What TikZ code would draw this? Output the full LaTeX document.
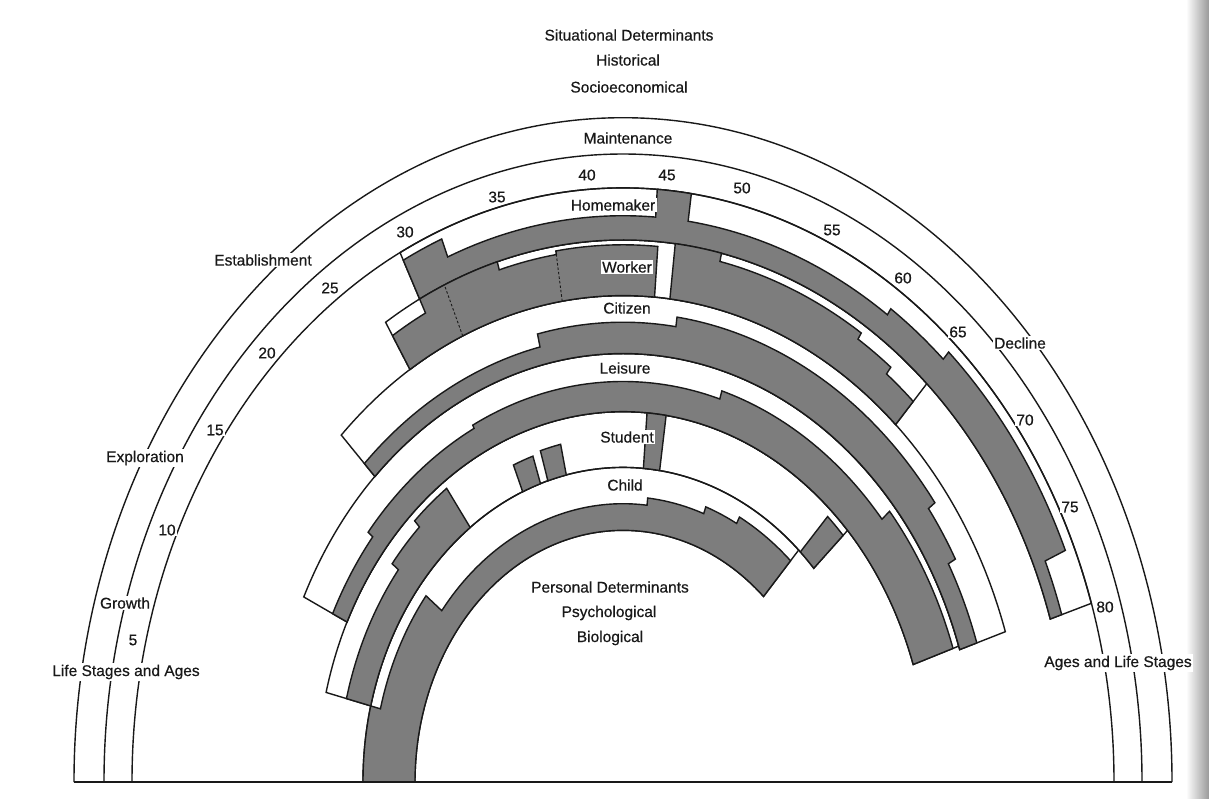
\documentclass[tikz,border=0pt]{standalone}
\usepackage{fontspec}
\setmainfont{Liberation Sans}
\newfontfamily\lblfont[FakeBold=0.5]{Liberation Sans}
\definecolor{bandgray}{RGB}{125,125,125}
\definecolor{ink}{RGB}{25,25,25}
\tikzset{
  gfill/.style={fill=bandgray, draw=ink, line width=1.4pt, line join=miter},
  outline/.style={draw=ink, line width=1.4pt},
  lbl/.style={font=\lblfont\fontsize{15.5}{17}\selectfont, text=ink, inner sep=1.5pt},
  wlbl/.style={lbl, fill=white},
  dashline/.style={draw=ink, line width=0.9pt, dash pattern=on 2.5pt off 2pt},
}
% gray stepped region: #1 inner radius, #2 start angle, #3 end angle, #4 segments a/b/r
\newcommand\gband[4]{%
  \filldraw[gfill] (#2:#1) \foreach \sa/\sb/\sr in {#4} { -- (\sa:\sr) arc[start angle=\sa, end angle=\sb, radius=\sr] } -- (#3:#1) arc[start angle=#3, end angle=#2, radius=#1] -- cycle;}
% band outline: #1 inner r, #2 outer r, #3 start angle, #4 end angle
\newcommand\ringband[4]{%
  \draw[outline] (#3:#1) -- (#3:#2) arc[start angle=#3, end angle=#4, radius=#2] -- (#4:#1) arc[start angle=#4, end angle=#3, radius=#1] -- cycle;}
\begin{document}
\begin{tikzpicture}[x=1pt,y=-1pt]
\useasboundingbox (0,0) rectangle (1209,798);
\fill[white] (0,0) rectangle (1209,798);
\shade[left color=white, right color=black!40] (1186,0) rectangle (1209,798);

\begin{scope}[shift={(623,782)}, yscale=-1.21]
  % outer stage and age arcs
  \draw[outline] (180:549) arc[start angle=180, end angle=0, radius=549];
  \draw[outline] (180:519) arc[start angle=180, end angle=0, radius=519];
  \draw[outline] (180:491) arc[start angle=180, end angle=0, radius=491];
  % role bands (outlines)
  \ringband{448}{491}{117}{17.5}
  \ringband{402}{448}{122}{47.3}
  \ringband{354}{402}{134.5}{18}
  \ringband{306}{354}{154.4}{18.5}
  \ringband{260}{306}{166}{42.8}
  \ringband{208}{260}{180}{47.5}
  % Homemaker
  \gband{448}{117}{17.5}{117/112/484, 112/86/468, 86/82/491, 82/55.6/468, 55.6/47.5/474, 47.5/23.4/482, 23.4/17.5/460}
  % Worker
  \gband{402}{122}{85.5}{122/117/435, 117/106.3/448, 106.3/98.7/441, 98.7/85.5/444}
  \gband{402}{83.3}{47.3}{83.3/77.3/448, 77.3/57.3/441, 57.3/52/435, 52/47.3/428}
  \draw[dashline] (113.5:402) -- (113.5:448);
  \draw[dashline] (98.7:402) -- (98.7:444);
  % Citizen
  \gband{354}{134.5}{18}{134.5/103/369, 103/82/380, 82/36.5/388, 36.5/29/380, 29/18/372}
  % Leisure
  \gband{306}{154.4}{18.5}{154.4/141/322, 141/117/328, 117/73/331, 73/40/338, 40/18.5/348}
  % Student
  \gband{260}{166}{126}{166/142/285, 142/134/293, 134/126/300}
  \gband{260}{112.7}{108.5}{112.7/108.5/284}
  \gband{260}{106.8}{102.6}{106.8/102.6/286}
  \gband{260}{85.5}{81.9}{85.5/81.9/306}
  \gband{260}{47}{42.8}{47/42.8/300}
  % Child
  \gband{208}{180}{47.5}{180/166/260, 166/142/250, 142/84/230, 84/70/236, 70/62/242, 62/47.5/248}
\end{scope}
\draw[outline] (74,782) -- (1172,782);

% role labels
\node[wlbl] (hm) at (613,205) {Homemaker};
\node[wlbl] (wk) at (627,267) {Worker};
\node[wlbl] (ct) at (627,308) {Citizen};
\node[wlbl] (ls) at (625,368) {Leisure};
\node[wlbl] (st) at (627,437) {Student};
\node[wlbl] (ch) at (625,485) {Child};

% stage labels
\node[wlbl] (mt) at (628,138) {Maintenance};
\node[wlbl] (es) at (263,260) {Establishment};
\node[wlbl] (ex) at (145,458) {Exploration};
\node[wlbl] (gr) at (125,603) {Growth};
\node[wlbl] (dc) at (1020,343) {Decline};
\node[wlbl] (lsa) at (126,672) {Life Stages and Ages};
\node[wlbl] (als) at (1118,663) {Ages and Life Stages};

% ages
\foreach \n/\px/\py in {5/133/640, 10/167/530, 15/215/430, 20/267/353, 25/330/288, 30/405/232, 35/497/197, 40/587/175, 45/667/175, 50/742/188, 55/832/230, 60/903/278, 65/958/332, 70/1025/420, 75/1070/507, 80/1105/607}
  \node[wlbl, inner sep=1pt] (age\n) at (\px,\py) {\n};

% determinants
\node[lbl] (sd) at (629,35) {Situational Determinants};
\node[lbl] (hi) at (628,60) {Historical};
\node[lbl] (se) at (629,87) {Socioeconomical};
\node[lbl] (pd) at (610,587) {Personal Determinants};
\node[lbl] (ps) at (609,613) {Psychological};
\node[lbl] (bi) at (610,638) {Biological};
\end{tikzpicture}
\end{document}
